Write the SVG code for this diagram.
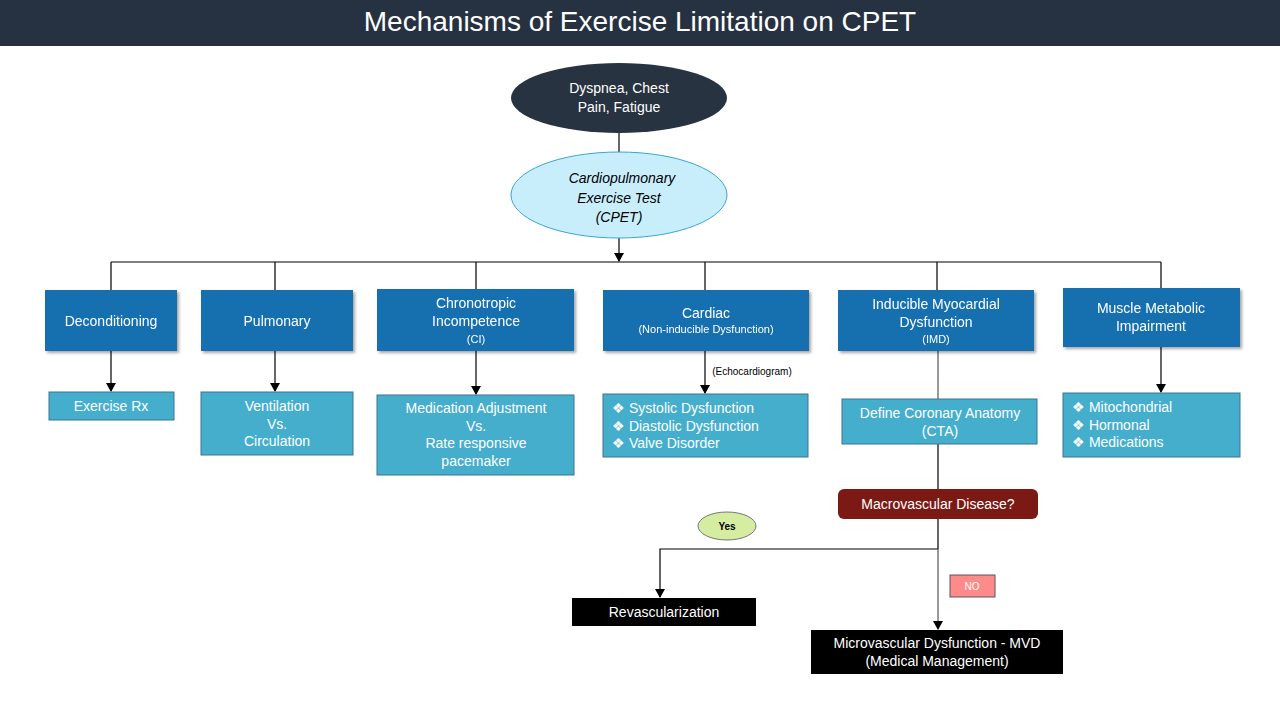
<svg xmlns="http://www.w3.org/2000/svg" width="1280" height="720" viewBox="0 0 1280 720">
<style>
text{font-family:"Liberation Sans",Arial,sans-serif;text-anchor:middle}
.db{fill:#1570b0}
.lb{fill:#45aecd;stroke:#3a7590;stroke-width:1}
.w{fill:#fff;font-size:14px}
.ws{fill:#fff;font-size:11px}
.wl{fill:#fff;font-size:14px;text-anchor:start}
.ln{stroke:#000;stroke-width:1.2;fill:none}
</style>
<defs>
<marker id="a" markerWidth="10" markerHeight="10" refX="8" refY="5" orient="auto" markerUnits="userSpaceOnUse"><path d="M0,0L9,5L0,10z" fill="#000"/></marker>
<filter id="s"><feDropShadow dx="2" dy="2" stdDeviation="1.5" flood-opacity="0.35"/></filter>
</defs>
<rect width="1280" height="720" fill="#fff"/>
<rect x="0" y="0" width="1280" height="46" fill="#263141"/>
<text x="640" y="31" style="font-size:28px;fill:#fff">Mechanisms of Exercise Limitation on CPET</text>
<g id="connectors">
<path class="ln" d="M619,133V152"/>
<path class="ln" d="M619,238V261" marker-end="url(#a)"/>
<path class="ln" d="M111,262H1161"/>
<path class="ln" d="M111,262V290M275,262V290M476,262V289M705,262V290M937,262V290M1161,262V288"/>
<path class="ln" d="M111,351V391" marker-end="url(#a)"/>
<path class="ln" d="M275,351V391" marker-end="url(#a)"/>
<path class="ln" d="M476,351V394" marker-end="url(#a)"/>
<path class="ln" d="M705,351V393" marker-end="url(#a)"/>
<path d="M938,351V399" stroke="#777" stroke-width="1.5"/>
<path class="ln" d="M1161,347V392" marker-end="url(#a)"/>
<path class="ln" d="M938,444V489M938,519V549H660V597" marker-end="url(#a)"/>
<path d="M938,549V629" stroke="#777" stroke-width="1.5" fill="none" marker-end="url(#a)"/>
<text x="752" y="375" style="font-size:10px">(Echocardiogram)</text>
</g>
<g id="n-symptoms"><ellipse cx="619" cy="98" rx="108" ry="35" fill="#283341"/><text class="w" x="619" y="93">Dyspnea, Chest</text><text class="w" x="619" y="112">Pain, Fatigue</text></g>
<g id="n-cpet"><ellipse cx="619" cy="195" rx="108" ry="43" fill="#c9eefb" stroke="#3aa5d6"/><g style="font-size:14px;font-style:italic;fill:#000"><text x="622" y="183">Cardiopulmonary</text><text x="619" y="203">Exercise Test</text><text x="619" y="222">(CPET)</text></g></g>
<g id="n-decond" filter="url(#s)"><rect class="db" x="45" y="290" width="132" height="61"/><text class="w" x="111" y="326">Deconditioning</text></g>
<g id="n-pulm" filter="url(#s)"><rect class="db" x="201" y="290" width="152" height="61"/><text class="w" x="277" y="326">Pulmonary</text></g>
<g id="n-ci" filter="url(#s)"><rect class="db" x="377" y="289" width="197" height="62"/><text class="w" x="476" y="308">Chronotropic</text><text class="w" x="476" y="326">Incompetence</text><text class="ws" x="476" y="343">(CI)</text></g>
<g id="n-cardiac" filter="url(#s)"><rect class="db" x="603" y="290" width="206" height="61"/><text class="w" x="706" y="318">Cardiac</text><text class="ws" x="706" y="333">(Non-inducible Dysfunction)</text></g>
<g id="n-imd" filter="url(#s)"><rect class="db" x="838" y="290" width="196" height="61"/><text class="w" x="936" y="309">Inducible Myocardial</text><text class="w" x="936" y="327">Dysfunction</text><text class="ws" x="936" y="343">(IMD)</text></g>
<g id="n-muscle" filter="url(#s)"><rect class="db" x="1063" y="288" width="177" height="59"/><text class="w" x="1151" y="313">Muscle Metabolic</text><text class="w" x="1151" y="331">Impairment</text></g>
<g id="n-exrx"><rect class="lb" x="49" y="392" width="125" height="28"/><text class="w" x="111" y="411">Exercise Rx</text></g>
<g id="n-vent"><rect class="lb" x="201" y="392" width="152" height="63"/><text class="w" x="277" y="411">Ventilation</text><text class="w" x="277" y="429">Vs.</text><text class="w" x="277" y="446">Circulation</text></g>
<g id="n-med"><rect class="lb" x="377" y="395" width="197" height="80"/><text class="w" x="476" y="413">Medication Adjustment</text><text class="w" x="476" y="431">Vs.</text><text class="w" x="476" y="448">Rate responsive</text><text class="w" x="476" y="466">pacemaker</text></g>
<g id="n-cardlist"><rect class="lb" x="603" y="394" width="205" height="63"/><text class="wl" x="612" y="413">❖ Systolic Dysfunction</text><text class="wl" x="612" y="431">❖ Diastolic Dysfunction</text><text class="wl" x="612" y="448">❖ Valve Disorder</text></g>
<g id="n-cta"><rect class="lb" x="842" y="399" width="195" height="45"/><text class="w" x="940" y="418">Define Coronary Anatomy</text><text class="w" x="940" y="436">(CTA)</text></g>
<g id="n-muslist"><rect class="lb" x="1063" y="393" width="177" height="64"/><text class="wl" x="1072" y="412">❖ Mitochondrial</text><text class="wl" x="1072" y="430">❖ Hormonal</text><text class="wl" x="1072" y="447">❖ Medications</text></g>
<g id="n-macro"><rect x="838" y="489" width="200" height="30" rx="6" fill="#7b1a14"/><text class="w" x="938" y="509">Macrovascular Disease?</text></g>
<g id="n-yes"><ellipse cx="727" cy="526" rx="29" ry="14" fill="#d4eda0" stroke="#777"/><text x="727" y="530" style="font-size:10px;font-weight:bold">Yes</text></g>
<g id="n-no"><rect x="950" y="575" width="45" height="22" fill="#ff8a8a" stroke="#556"/><text x="972" y="590" style="font-size:10px;fill:#fff">NO</text></g>
<g id="n-revasc"><rect x="572" y="598" width="184" height="28" fill="#000"/><text class="w" x="664" y="617">Revascularization</text></g>
<g id="n-mvd"><rect x="811" y="630" width="252" height="44" fill="#000"/><text class="w" x="937" y="648">Microvascular Dysfunction - MVD</text><text class="w" x="937" y="666">(Medical Management)</text></g>
</svg>
